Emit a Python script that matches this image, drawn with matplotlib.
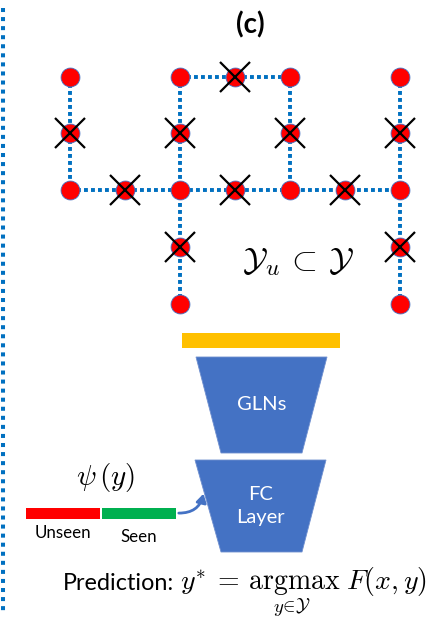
import matplotlib
matplotlib.use("Agg")
import matplotlib.pyplot as plt
from matplotlib.patches import Polygon, Rectangle, FancyArrowPatch

plt.rcParams['mathtext.fontset'] = 'cm'
plt.rcParams['font.family'] = ['Lato', 'DejaVu Sans']

# ---- graph data (grid coordinates: column, row) ----
node_cols = [0, 0, 0, 1, 2, 2, 2, 2, 2, 3, 3, 4, 4, 4, 5, 6, 6, 6, 6, 6]
node_rows = [0, 1, 2, 2, 0, 1, 2, 3, 4, 0, 2, 0, 1, 2, 2, 0, 1, 2, 3, 4]
node_masked = [0, 1, 0, 1, 0, 1, 0, 1, 0, 1, 1, 0, 1, 0, 1, 0, 1, 0, 1, 0]
edges = [((0, 0), (0, 2)), ((0, 2), (6, 2)), ((2, 0), (2, 4)), ((2, 0), (4, 0)),
         ((4, 0), (4, 2)), ((6, 0), (6, 4))]

title = "(c)"
subset_label = r"$\mathcal{Y}_u \,\subset\, \mathcal{Y}$"
psi_label = r"$\psi\,(y)$"
bar_labels = ["Unseen", "Seen"]
bar_colors = ["#FF0000", "#00B050"]
block_labels = ["GLNs", "FC\nLayer"]
prediction_word = "Prediction:"
prediction_math = r"$y^{*}\:=\:\mathrm{argmax}\;F(x, y)$"
prediction_sub = r"$y\!\in\!\mathcal{Y}$"

W, H = 434, 617
fig = plt.figure(figsize=(W / 100, H / 100), dpi=100)
ax = fig.add_axes([0, 0, 1, 1])
ax.set_xlim(0, W)
ax.set_ylim(H, 0)
ax.axis('off')

# grid -> pixel scale
x0, dx = 70, 55.0
y0, dy = 76.5, 56.8
def gx(c): return x0 + c * dx
def gy(r): return y0 + r * dy

line_blue = "#0070C0"
# left border dotted line
ax.plot([3, 3], [8, 614], color=line_blue, lw=2.9, linestyle=(0, (1.0, 1.25)),
        dash_capstyle='butt')

# edges
for (c1, r1), (c2, r2) in edges:
    ax.plot([gx(c1), gx(c2)], [gy(r1), gy(r2)], color=line_blue, lw=2.8,
            linestyle=(0, (1.0, 0.8)), dash_capstyle='butt', zorder=1)

# nodes
xs = [gx(c) for c in node_cols]
ys = [gy(r) for r in node_rows]
ax.plot(xs, ys, 'o', ms=13.6, mfc='#FF0000', mec='#4472C4', mew=0.6, ls='none', zorder=2)
mx = [x for x, m in zip(xs, node_masked) if m]
my = [y for y, m in zip(ys, node_masked) if m]
ax.plot(mx, my, 'x', ms=22, mec='black', mew=1.6, ls='none', zorder=3)

ax.text(250, 25, title, fontsize=20, fontweight='bold', ha='center', va='center')
ax.text(298, 262, subset_label, fontsize=24, ha='center', va='center')

# yellow bar
ax.add_patch(Rectangle((182, 333), 158, 15, color='#FFC000', lw=0))

# trapezoid blocks
blue = "#4472C4"
blocks = [((196, 327, 357), (221, 302, 453)), ((195, 326, 460), (221, 302, 552))]
for ((tl, tr, ty), (bl, br, by)), lab in zip(blocks, block_labels):
    ax.add_patch(Polygon([(tl, ty), (tr, ty), (br, by), (bl, by)], closed=True,
                         fc=blue, ec='#6F8FCF', lw=0.6))
    ax.text((tl + tr) / 2, (ty + by) / 2, lab, color='white', fontsize=14.5,
            ha='center', va='center', linespacing=1.45)

# psi bars
bar_x = [26, 102]
bar_w = [74, 74]
for x, w, c, lab, ly in zip(bar_x, bar_w, bar_colors, bar_labels, [533, 537]):
    ax.add_patch(Rectangle((x, 508), w, 11, color=c, lw=0))
    ax.text(x + w / 2, ly, lab, fontsize=12.2, ha='center', va='center')
ax.text(106, 477, psi_label, fontsize=21, ha='center', va='center')

arrow = FancyArrowPatch((176, 513), (204, 491), connectionstyle="arc3,rad=0.45",
                        arrowstyle='-|>,head_length=5,head_width=3', color=blue, lw=2)
ax.add_patch(arrow)

ax.text(63, 583, prediction_word, fontsize=16.8, ha='left', va='center')
ax.text(180, 581, prediction_math, fontsize=20, ha='left', va='center')
ax.text(292, 607, prediction_sub, fontsize=13.5, ha='center', va='center')

fig.savefig("out.png", dpi=100)
